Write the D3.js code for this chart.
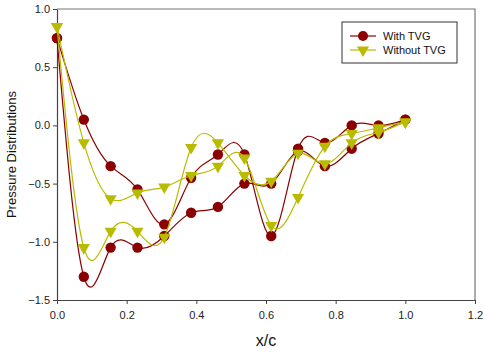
<!DOCTYPE html>
<html>
<head>
<meta charset="utf-8">
<script src="https://cdn.jsdelivr.net/npm/d3@7"></script>
<style>
  body { margin: 0; background: #fff; }
  text { font-family: "Liberation Sans", Arial, sans-serif; }
</style>
</head>
<body>
<script>
// chordwise stations, same for both surfaces
const xc = [0, 0.077, 0.154, 0.231, 0.308, 0.385, 0.462, 0.538, 0.615, 0.692, 0.769, 0.846, 0.923, 1.0];

// With TVG, two surfaces
const withA = [0.75, 0.05, -0.35, -0.55, -0.85, -0.45, -0.25, -0.25, -0.95, -0.2, -0.15, 0.0, 0.0, 0.05];
const withB = [0.75, -1.30, -1.05, -1.05, -0.95, -0.75, -0.70, -0.5, -0.5, -0.22, -0.35, -0.2, -0.07, 0.05];

// Without TVG, two surfaces
const withoutA = [0.85, -0.15, -0.63, -0.58, -0.53, -0.43, -0.35, -0.28, -0.86, -0.62, -0.18, -0.07, -0.02, 0.03];
const withoutB = [0.85, -1.05, -0.91, -0.91, -0.96, -0.19, -0.15, -0.43, -0.48, -0.24, -0.33, -0.15, -0.06, 0.03];

const xTicks = [0, 0.2, 0.4, 0.6, 0.8, 1.0, 1.2];
const yTicks = [-1.5, -1.0, -0.5, 0, 0.5, 1.0];

const RED = "#8b0000", YEL = "#b9bb00";

const W = 484, H = 354;
const margin = { top: 9, right: 9, bottom: 54, left: 57 };

const svg = d3.select("body").append("svg")
    .attr("width", W).attr("height", H);

const x = d3.scaleLinear().domain([0, 1.2]).range([margin.left, W - margin.right]);
const y = d3.scaleLinear().domain([-1.5, 1.0]).range([H - margin.bottom, margin.top]);

// frame top/right
svg.append("path")
    .attr("d", `M${x(0)},${y(1)}H${x(1.2)}V${y(-1.5)}`)
    .attr("fill", "none").attr("stroke", "#777").attr("stroke-width", 1.2);

// axes
const xAxis = svg.append("g")
    .attr("transform", `translate(0,${y(-1.5)})`)
    .call(d3.axisBottom(x).tickValues(xTicks).tickFormat(d3.format(".1f")).tickSize(4).tickSizeOuter(0));
const yAxis = svg.append("g")
    .attr("transform", `translate(${x(0)},0)`)
    .call(d3.axisLeft(y).tickValues(yTicks).tickFormat(d3.format(".1f")).tickSize(4).tickSizeOuter(0));

[xAxis, yAxis].forEach(g => {
  g.selectAll(".domain").attr("stroke", "#444").attr("stroke-width", 1.2);
  g.selectAll(".tick line").attr("stroke", "#444");
  g.selectAll("text").attr("font-size", 11).attr("fill", "#222")
    .attr("font-family", "'Liberation Sans', Arial, sans-serif");
});
xAxis.selectAll("text").attr("dy", "1.05em");
yAxis.selectAll("text").attr("x", -7);

// axis titles
svg.append("text")
    .attr("x", (x(0) + x(1.2)) / 2).attr("y", 346)
    .attr("text-anchor", "middle").attr("font-size", 16).attr("fill", "#111")
    .text("x/c");
svg.append("text")
    .attr("transform", `translate(16,${(y(1) + y(-1.5)) / 2}) rotate(-90)`)
    .attr("text-anchor", "middle").attr("font-size", 13).attr("fill", "#111")
    .text("Pressure Distributions");

const line = d3.line()
    .x((d, i) => x(xc[i]))
    .y(d => y(d))
    .curve(d3.curveNatural);

const tri = d3.symbol().type(d3.symbolTriangle).size(64);

function drawSeries(arrs, color, marker) {
  arrs.forEach(a => {
    svg.append("path").datum(a)
      .attr("d", line)
      .attr("fill", "none").attr("stroke", color).attr("stroke-width", 1.2);
  });
  arrs.forEach(a => {
    const g = svg.append("g");
    if (marker === "circle") {
      g.selectAll("circle").data(a).enter().append("circle")
        .attr("cx", (d, i) => x(xc[i])).attr("cy", d => y(d))
        .attr("r", 5.2).attr("fill", color);
    } else {
      g.selectAll("path").data(a).enter().append("path")
        .attr("d", tri)
        .attr("transform", (d, i) => `translate(${x(xc[i])},${y(d)}) rotate(180)`)
        .attr("fill", color);
    }
  });
}

drawSeries([withA, withB], RED, "circle");
drawSeries([withoutA, withoutB], YEL, "triangle");

// legend
const leg = svg.append("g").attr("transform", "translate(342,22)");
leg.append("rect").attr("width", 115).attr("height", 41)
  .attr("fill", "#fff").attr("stroke", "#333").attr("stroke-width", 1);
const items = [
  { label: "With TVG", color: RED, marker: "circle" },
  { label: "Without TVG", color: YEL, marker: "triangle" }
];
items.forEach((it, i) => {
  const gy = 14 + i * 14;
  leg.append("line").attr("x1", 8).attr("x2", 34).attr("y1", gy).attr("y2", gy)
    .attr("stroke", it.color).attr("stroke-width", 1.2);
  if (it.marker === "circle") {
    leg.append("circle").attr("cx", 21).attr("cy", gy).attr("r", 5).attr("fill", it.color);
  } else {
    leg.append("path").attr("d", tri)
      .attr("transform", `translate(21,${gy}) rotate(180)`).attr("fill", it.color);
  }
  leg.append("text").attr("x", 41).attr("y", gy + 4)
    .attr("font-size", 11).attr("fill", "#111").text(it.label);
});
</script>
</body>
</html>
